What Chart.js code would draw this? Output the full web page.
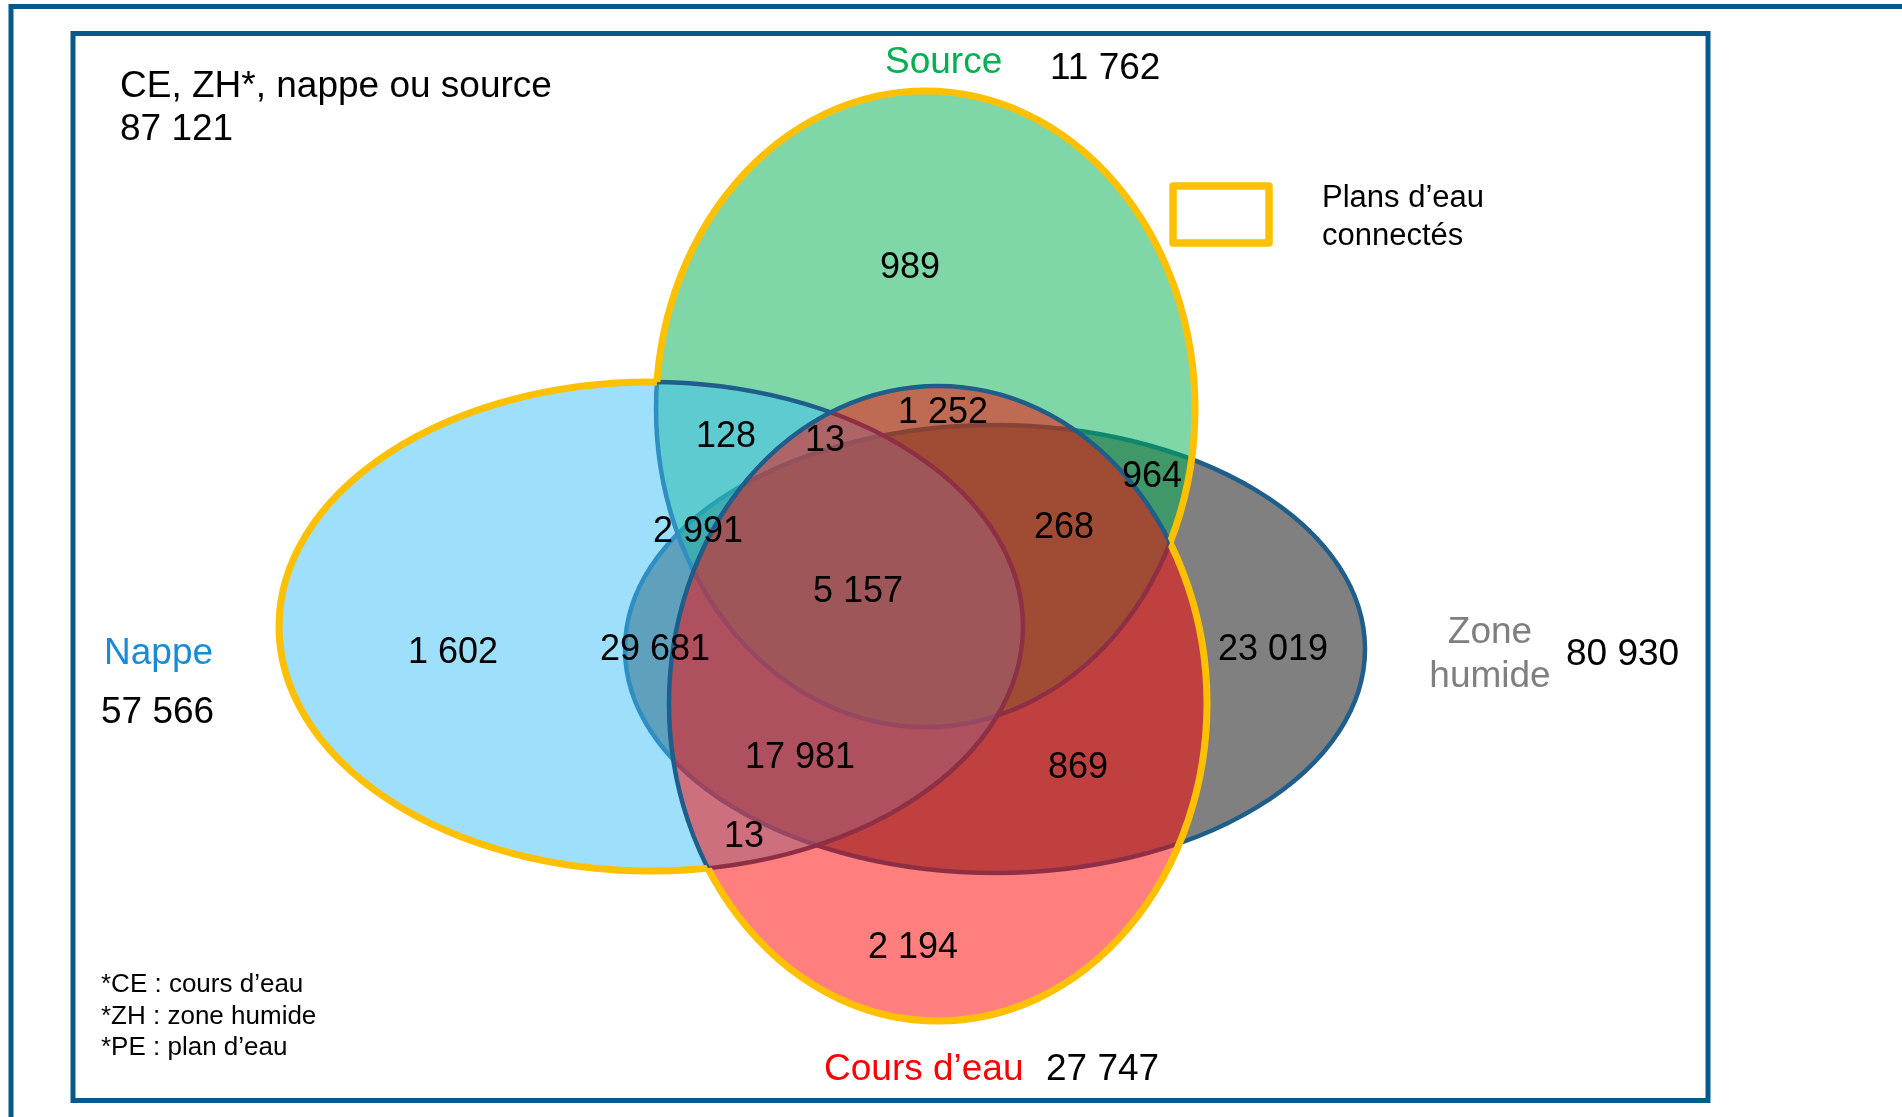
<!DOCTYPE html>
<html><head><meta charset="utf-8">
<script src="https://cdn.jsdelivr.net/npm/chart.js@4.4.1/dist/chart.umd.min.js"></script>
<style>html,body{margin:0;padding:0;background:#fff;overflow:hidden}canvas{display:block}</style>
</head><body>
<canvas id="c" width="1902" height="1117"></canvas>
<script>
// ---------- data ----------
const setNames  = ['Zone humide', 'Source', 'Nappe', 'Cours d’eau'];
const setTotals = [80930, 11762, 57566, 27747];
const regionSets   = ['S', 'S+N', 'S+N+C', 'S+C', 'S+Z', 'S+N+Z', 'S+Z+C', 'S+N+Z+C',
                      'N', 'N+Z', 'Z', 'N+Z+C', 'Z+C', 'N+C', 'C'];
const regionCounts = [989, 128, 13, 1252, 964, 2991, 268, 5157,
                      1602, 29681, 23019, 17981, 869, 13, 2194];
const grandTotal  = 87121;
const titleLabel  = 'CE, ZH*, nappe ou source';
const legendLines = ['Plans d’eau', 'connectés'];
const footnotes   = ['*CE : cours d’eau', '*ZH : zone humide', '*PE : plan d’eau'];

// ---------- layout (data units of the hidden linear scales) ----------
const ellipseGeom = [
  {cx: 995,   cy: 649,   rx: 370,   ry: 224},   // Zone humide
  {cx: 925.5, cy: 409,   rx: 269.5, ry: 318},   // Source
  {cx: 651,   cy: 626.5, rx: 372,   ry: 244.5}, // Nappe
  {cx: 938,   cy: 703.5, rx: 269,   ry: 317.5}  // Cours d'eau
];
const connectedSets = [1, 2, 3]; // outlined in yellow (union)
const regionPos = [
  [910, 278], [726, 447], [825, 451], [943, 423], [1152, 487], [698, 542], [1064, 538], [858, 602],
  [453, 663], [655, 660], [1273, 660], [800, 768], [1078, 778], [744, 847], [913, 958]
];
const setNamePos = [
  {lines: ['Zone', 'humide'], x: 1490, y: [643, 687], align: 'center'},
  {lines: null, x: 885, y: [73], align: 'left'},
  {lines: null, x: 104, y: [664], align: 'left'},
  {lines: null, x: 824, y: [1080], align: 'left'}
];
const setTotalPos = [[1566, 665], [1050, 79], [101, 723], [1046, 1080]];

// ---------- styles ----------
const fills = ['#808080', 'rgba(0,176,80,0.5)', 'rgba(61,191,249,0.5)', 'rgba(255,0,0,0.5)'];
const nameColors = ['#7F7F7F', '#00B050', '#1A8AD4', '#FF0000'];
const outline = '#1F5E8A';
const frameColor = '#06598A';
const yellow = '#FFC000';
const FONT = '"Liberation Sans", Arial, sans-serif';

function fmt(n) { return String(n).replace(/\B(?=(\d{3})+(?!\d))/g, ' '); }

const vennPlugin = {
  id: 'venn',
  afterDraw(chart) {
    const ctx = chart.ctx;
    const xs = chart.scales.x, ys = chart.scales.y;
    const X = v => xs.getPixelForValue(v), Y = v => ys.getPixelForValue(v);
    const W = chart.width, H = chart.height;
    const E = ellipseGeom.map(g => ({
      x: X(g.cx), y: Y(g.cy),
      rx: Math.abs(X(g.cx + g.rx) - X(g.cx)),
      ry: Math.abs(Y(g.cy + g.ry) - Y(g.cy))
    }));
    const path = e => { ctx.beginPath(); ctx.ellipse(e.x, e.y, e.rx, e.ry, 0, 0, Math.PI * 2); };

    ctx.save();
    // frames
    ctx.strokeStyle = frameColor; ctx.lineWidth = 5;
    ctx.strokeRect(X(11), Y(6.5), X(2100) - X(11), Y(1300) - Y(6.5));
    ctx.strokeRect(X(73), Y(33.5), X(1708) - X(73), Y(1100.5) - Y(33.5));

    // ellipses
    E.forEach((e, i) => {
      path(e);
      ctx.fillStyle = fills[i]; ctx.fill();
      ctx.strokeStyle = outline; ctx.lineWidth = 4.5; ctx.stroke();
    });

    // yellow outline of union of connected sets
    connectedSets.forEach(i => {
      ctx.save();
      connectedSets.forEach(j => {
        if (j === i) return;
        const o = E[j];
        ctx.beginPath();
        ctx.rect(0, 0, W, H);
        ctx.moveTo(o.x + o.rx, o.y);
        ctx.ellipse(o.x, o.y, o.rx, o.ry, 0, 0, Math.PI * 2);
        ctx.clip('evenodd');
      });
      path(E[i]);
      ctx.strokeStyle = yellow; ctx.lineWidth = 7; ctx.stroke();
      ctx.restore();
    });

    // region counts
    ctx.fillStyle = '#000'; ctx.textAlign = 'center'; ctx.textBaseline = 'alphabetic';
    ctx.font = '36px ' + FONT;
    regionCounts.forEach((v, i) => {
      ctx.fillText(fmt(v), X(regionPos[i][0]), Y(regionPos[i][1]));
    });

    // set names and totals
    ctx.font = '37px ' + FONT;
    setNames.forEach((n, i) => {
      const p = setNamePos[i];
      const lines = p.lines || [n];
      ctx.fillStyle = nameColors[i]; ctx.textAlign = p.align;
      lines.forEach((l, k) => ctx.fillText(l, X(p.x), Y(p.y[k])));
      ctx.fillStyle = '#000'; ctx.textAlign = 'left';
      ctx.fillText(fmt(setTotals[i]), X(setTotalPos[i][0]), Y(setTotalPos[i][1]));
    });

    // title
    ctx.textAlign = 'left'; ctx.fillStyle = '#000';
    ctx.fillText(titleLabel, X(120), Y(97));
    ctx.fillText(fmt(grandTotal), X(120), Y(140));

    // legend
    ctx.strokeStyle = yellow; ctx.lineWidth = 7.5; ctx.lineJoin = 'round';
    ctx.strokeRect(X(1173), Y(186), X(1269) - X(1173), Y(243) - Y(186));
    ctx.font = '31px ' + FONT;
    ctx.fillText(legendLines[0], X(1322), Y(207));
    ctx.fillText(legendLines[1], X(1322), Y(245));

    // footnotes
    ctx.font = '26px ' + FONT;
    footnotes.forEach((f, k) => ctx.fillText(f, X(101), Y(992 + k * 31.5)));
    ctx.restore();
  }
};

new Chart(document.getElementById('c').getContext('2d'), {
  type: 'scatter',
  data: { datasets: [{
    label: 'régions',
    data: regionCounts.map((v, i) => ({x: regionPos[i][0], y: regionPos[i][1], v})),
    pointRadius: 0, pointHoverRadius: 0
  }]},
  options: {
    responsive: false, animation: false, devicePixelRatio: 1,
    layout: {padding: 0},
    events: [],
    scales: {
      x: {type: 'linear', min: 0, max: 1902, display: false},
      y: {type: 'linear', min: 0, max: 1117, reverse: true, display: false}
    },
    plugins: {legend: {display: false}, tooltip: {enabled: false}}
  },
  plugins: [vennPlugin]
});
</script>
</body></html>
